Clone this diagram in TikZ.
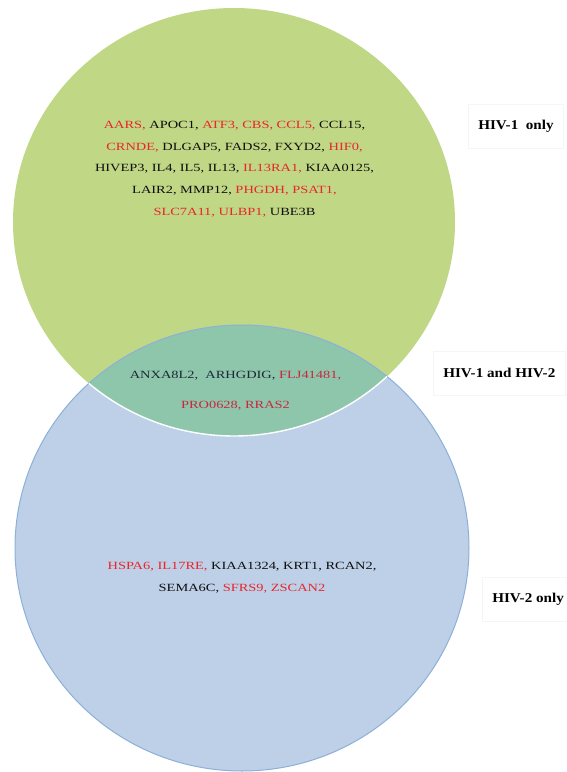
\documentclass[tikz,border=0pt]{standalone}
\usepackage{fontspec}
\setmainfont{Liberation Serif}
\newfontfamily\genefont[FakeStretch=1.31]{Liberation Serif}
\newfontfamily\tagfont[FakeStretch=1.12]{Liberation Serif}

\definecolor{hivone}{RGB}{192,215,133}
\definecolor{hivtwo}{RGB}{189,208,232}
\definecolor{hivboth}{RGB}{142,198,172}
\definecolor{hivtwoedge}{RGB}{140,176,216}
\definecolor{upred}{RGB}{232,38,43}
\definecolor{midred}{RGB}{200,40,62}
\definecolor{midink}{RGB}{30,40,55}
\definecolor{ink}{RGB}{15,15,15}

% genes regulated in the opposite direction are printed in red
\newcommand\upg[1]{\textcolor{upred}{#1}}
\newcommand\midg[1]{\textcolor{midred}{#1}}

\begin{document}
\begin{tikzpicture}[x=1pt,y=-1pt,
  genes/.style={font=\genefont\fontsize{11}{21.7}\selectfont,
    align=center, inner sep=0pt, text=ink},
  tag/.style={font=\tagfont\bfseries\fontsize{13.5}{16}\selectfont,
    draw=black!4, line width=0.6pt, minimum height=44pt,
    anchor=west, inner xsep=10pt, inner ysep=0pt, text=black}]
\useasboundingbox (0,0) rectangle (566,772);
\clip (0,0) rectangle (566,772);

% the two sets
\path[fill=hivtwo] (242,548) ellipse [x radius=227pt, y radius=223pt];
\path[fill=hivone] (234,222) ellipse [x radius=221pt, y radius=214pt];
% their intersection
\begin{scope}
  \clip (234,222) ellipse [x radius=221pt, y radius=214pt];
  \fill[hivboth] (242,548) ellipse [x radius=227pt, y radius=223pt];
\end{scope}
% outlines: blue rim of HIV-2, white rim of HIV-1 where it crosses HIV-2
\draw[hivtwoedge, line width=1pt] (242,548) ellipse [x radius=227pt, y radius=223pt];
\begin{scope}
  \clip (242,548) ellipse [x radius=227pt, y radius=223pt];
  \draw[white, line width=1.4pt] (234,222) ellipse [x radius=221pt, y radius=214pt];
\end{scope}

% gene lists
\node[genes] (upper) at (234.5,169) {%
  \upg{AARS,} APOC1, \upg{ATF3, CBS, CCL5,} CCL15,\\
  \upg{CRNDE,} DLGAP5, FADS2, FXYD2, \upg{HIF0,}\\
  HIVEP3, IL4, IL5, IL13, \upg{IL13RA1,} KIAA0125,\\
  LAIR2, MMP12, \upg{PHGDH, PSAT1,}\\
  \upg{SLC7A11, ULBP1,} UBE3B};

\node[genes, text=midink, font=\genefont\fontsize{11}{30}\selectfont]
  (shared) at (235.5,391) {%
  ANXA8L2,\ \ ARHGDIG, \midg{FLJ41481,}\\
  \midg{PRO0628, RRAS2}};

\node[genes] (lower) at (242,578) {%
  \upg{HSPA6, IL17RE,} KIAA1324, KRT1, RCAN2,\\
  SEMA6C, \upg{SFRS9, ZSCAN2}};

% set labels
\node[tag] (tagone)  at (468,126) {HIV-1\ \ only};
\node[tag] (tagboth) at (433,373) {HIV-1 and HIV-2};
\node[tag] (tagtwo)  at (482,599) {HIV-2 only};
\end{tikzpicture}
\end{document}
